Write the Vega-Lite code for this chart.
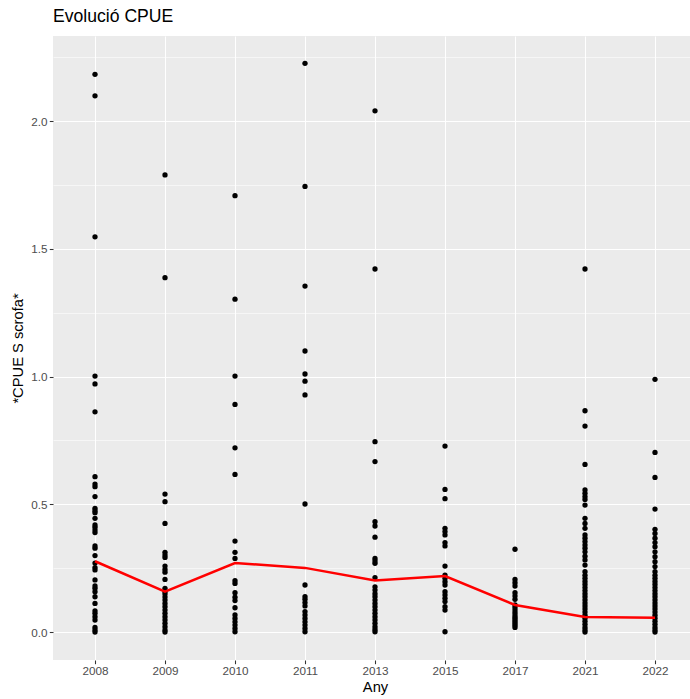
{
  "$schema": "https://vega.github.io/schema/vega-lite/v6.json",
  "width": 644,
  "height": 624,
  "autosize": {"type": "none"},
  "padding": {"left": 53, "top": 36, "right": 0, "bottom": 39},
  "background": "white",
  "title": {"text": "Evolució CPUE", "anchor": "start", "frame": "group", "fontSize": 17.6, "font": "Liberation Sans", "fontWeight": "normal", "color": "black", "offset": 10},
  "config": {"view": {"fill": "#EBEBEB", "stroke": null}, "font": "Liberation Sans"},
  "datasets": {
    "points": [
      {"Any": "2008", "CPUE": 2.183}, {"Any": "2008", "CPUE": 2.099}, {"Any": "2008", "CPUE": 1.547}, {"Any": "2008", "CPUE": 1.002}, {"Any": "2008", "CPUE": 0.971}, {"Any": "2008", "CPUE": 0.862}, {"Any": "2008", "CPUE": 0.608}, {"Any": "2008", "CPUE": 0.579}, {"Any": "2008", "CPUE": 0.569}, {"Any": "2008", "CPUE": 0.53}, {"Any": "2008", "CPUE": 0.484}, {"Any": "2008", "CPUE": 0.475}, {"Any": "2008", "CPUE": 0.467}, {"Any": "2008", "CPUE": 0.445}, {"Any": "2008", "CPUE": 0.419}, {"Any": "2008", "CPUE": 0.41}, {"Any": "2008", "CPUE": 0.399}, {"Any": "2008", "CPUE": 0.389}, {"Any": "2008", "CPUE": 0.337}, {"Any": "2008", "CPUE": 0.328}, {"Any": "2008", "CPUE": 0.299}, {"Any": "2008", "CPUE": 0.27}, {"Any": "2008", "CPUE": 0.252}, {"Any": "2008", "CPUE": 0.243}, {"Any": "2008", "CPUE": 0.204}, {"Any": "2008", "CPUE": 0.18}, {"Any": "2008", "CPUE": 0.171}, {"Any": "2008", "CPUE": 0.158}, {"Any": "2008", "CPUE": 0.138}, {"Any": "2008", "CPUE": 0.112}, {"Any": "2008", "CPUE": 0.083}, {"Any": "2008", "CPUE": 0.073}, {"Any": "2008", "CPUE": 0.06}, {"Any": "2008", "CPUE": 0.047}, {"Any": "2008", "CPUE": 0.018}, {"Any": "2008", "CPUE": 0.008}, {"Any": "2008", "CPUE": 0.0},
      {"Any": "2009", "CPUE": 1.789}, {"Any": "2009", "CPUE": 1.387}, {"Any": "2009", "CPUE": 0.54}, {"Any": "2009", "CPUE": 0.51}, {"Any": "2009", "CPUE": 0.425}, {"Any": "2009", "CPUE": 0.312}, {"Any": "2009", "CPUE": 0.301}, {"Any": "2009", "CPUE": 0.292}, {"Any": "2009", "CPUE": 0.258}, {"Any": "2009", "CPUE": 0.245}, {"Any": "2009", "CPUE": 0.234}, {"Any": "2009", "CPUE": 0.206}, {"Any": "2009", "CPUE": 0.171}, {"Any": "2009", "CPUE": 0.16}, {"Any": "2009", "CPUE": 0.15}, {"Any": "2009", "CPUE": 0.137}, {"Any": "2009", "CPUE": 0.125}, {"Any": "2009", "CPUE": 0.112}, {"Any": "2009", "CPUE": 0.099}, {"Any": "2009", "CPUE": 0.086}, {"Any": "2009", "CPUE": 0.073}, {"Any": "2009", "CPUE": 0.06}, {"Any": "2009", "CPUE": 0.047}, {"Any": "2009", "CPUE": 0.034}, {"Any": "2009", "CPUE": 0.021}, {"Any": "2009", "CPUE": 0.008}, {"Any": "2009", "CPUE": 0.0},
      {"Any": "2010", "CPUE": 1.708}, {"Any": "2010", "CPUE": 1.303}, {"Any": "2010", "CPUE": 1.002}, {"Any": "2010", "CPUE": 0.891}, {"Any": "2010", "CPUE": 0.721}, {"Any": "2010", "CPUE": 0.617}, {"Any": "2010", "CPUE": 0.356}, {"Any": "2010", "CPUE": 0.312}, {"Any": "2010", "CPUE": 0.288}, {"Any": "2010", "CPUE": 0.201}, {"Any": "2010", "CPUE": 0.19}, {"Any": "2010", "CPUE": 0.154}, {"Any": "2010", "CPUE": 0.136}, {"Any": "2010", "CPUE": 0.123}, {"Any": "2010", "CPUE": 0.095}, {"Any": "2010", "CPUE": 0.067}, {"Any": "2010", "CPUE": 0.053}, {"Any": "2010", "CPUE": 0.04}, {"Any": "2010", "CPUE": 0.027}, {"Any": "2010", "CPUE": 0.014}, {"Any": "2010", "CPUE": 0.001},
      {"Any": "2011", "CPUE": 2.226}, {"Any": "2011", "CPUE": 1.744}, {"Any": "2011", "CPUE": 1.354}, {"Any": "2011", "CPUE": 1.1}, {"Any": "2011", "CPUE": 1.01}, {"Any": "2011", "CPUE": 0.982}, {"Any": "2011", "CPUE": 0.928}, {"Any": "2011", "CPUE": 0.501}, {"Any": "2011", "CPUE": 0.184}, {"Any": "2011", "CPUE": 0.138}, {"Any": "2011", "CPUE": 0.128}, {"Any": "2011", "CPUE": 0.115}, {"Any": "2011", "CPUE": 0.102}, {"Any": "2011", "CPUE": 0.08}, {"Any": "2011", "CPUE": 0.067}, {"Any": "2011", "CPUE": 0.053}, {"Any": "2011", "CPUE": 0.04}, {"Any": "2011", "CPUE": 0.027}, {"Any": "2011", "CPUE": 0.014}, {"Any": "2011", "CPUE": 0.001},
      {"Any": "2013", "CPUE": 2.04}, {"Any": "2013", "CPUE": 1.421}, {"Any": "2013", "CPUE": 0.745}, {"Any": "2013", "CPUE": 0.667}, {"Any": "2013", "CPUE": 0.432}, {"Any": "2013", "CPUE": 0.415}, {"Any": "2013", "CPUE": 0.371}, {"Any": "2013", "CPUE": 0.288}, {"Any": "2013", "CPUE": 0.278}, {"Any": "2013", "CPUE": 0.269}, {"Any": "2013", "CPUE": 0.213}, {"Any": "2013", "CPUE": 0.177}, {"Any": "2013", "CPUE": 0.164}, {"Any": "2013", "CPUE": 0.15}, {"Any": "2013", "CPUE": 0.138}, {"Any": "2013", "CPUE": 0.125}, {"Any": "2013", "CPUE": 0.112}, {"Any": "2013", "CPUE": 0.099}, {"Any": "2013", "CPUE": 0.086}, {"Any": "2013", "CPUE": 0.073}, {"Any": "2013", "CPUE": 0.06}, {"Any": "2013", "CPUE": 0.047}, {"Any": "2013", "CPUE": 0.034}, {"Any": "2013", "CPUE": 0.021}, {"Any": "2013", "CPUE": 0.01}, {"Any": "2013", "CPUE": 0.001},
      {"Any": "2015", "CPUE": 0.728}, {"Any": "2015", "CPUE": 0.558}, {"Any": "2015", "CPUE": 0.522}, {"Any": "2015", "CPUE": 0.406}, {"Any": "2015", "CPUE": 0.393}, {"Any": "2015", "CPUE": 0.38}, {"Any": "2015", "CPUE": 0.35}, {"Any": "2015", "CPUE": 0.337}, {"Any": "2015", "CPUE": 0.258}, {"Any": "2015", "CPUE": 0.223}, {"Any": "2015", "CPUE": 0.21}, {"Any": "2015", "CPUE": 0.197}, {"Any": "2015", "CPUE": 0.184}, {"Any": "2015", "CPUE": 0.158}, {"Any": "2015", "CPUE": 0.145}, {"Any": "2015", "CPUE": 0.132}, {"Any": "2015", "CPUE": 0.119}, {"Any": "2015", "CPUE": 0.099}, {"Any": "2015", "CPUE": 0.086}, {"Any": "2015", "CPUE": 0.001},
      {"Any": "2017", "CPUE": 0.324}, {"Any": "2017", "CPUE": 0.206}, {"Any": "2017", "CPUE": 0.193}, {"Any": "2017", "CPUE": 0.18}, {"Any": "2017", "CPUE": 0.154}, {"Any": "2017", "CPUE": 0.141}, {"Any": "2017", "CPUE": 0.128}, {"Any": "2017", "CPUE": 0.106}, {"Any": "2017", "CPUE": 0.096}, {"Any": "2017", "CPUE": 0.086}, {"Any": "2017", "CPUE": 0.076}, {"Any": "2017", "CPUE": 0.067}, {"Any": "2017", "CPUE": 0.058}, {"Any": "2017", "CPUE": 0.05}, {"Any": "2017", "CPUE": 0.042}, {"Any": "2017", "CPUE": 0.034}, {"Any": "2017", "CPUE": 0.026}, {"Any": "2017", "CPUE": 0.018},
      {"Any": "2021", "CPUE": 1.421}, {"Any": "2021", "CPUE": 0.866}, {"Any": "2021", "CPUE": 0.806}, {"Any": "2021", "CPUE": 0.656}, {"Any": "2021", "CPUE": 0.556}, {"Any": "2021", "CPUE": 0.543}, {"Any": "2021", "CPUE": 0.53}, {"Any": "2021", "CPUE": 0.519}, {"Any": "2021", "CPUE": 0.497}, {"Any": "2021", "CPUE": 0.445}, {"Any": "2021", "CPUE": 0.425}, {"Any": "2021", "CPUE": 0.406}, {"Any": "2021", "CPUE": 0.38}, {"Any": "2021", "CPUE": 0.367}, {"Any": "2021", "CPUE": 0.354}, {"Any": "2021", "CPUE": 0.341}, {"Any": "2021", "CPUE": 0.328}, {"Any": "2021", "CPUE": 0.314}, {"Any": "2021", "CPUE": 0.297}, {"Any": "2021", "CPUE": 0.282}, {"Any": "2021", "CPUE": 0.262}, {"Any": "2021", "CPUE": 0.236}, {"Any": "2021", "CPUE": 0.222}, {"Any": "2021", "CPUE": 0.21}, {"Any": "2021", "CPUE": 0.198}, {"Any": "2021", "CPUE": 0.186}, {"Any": "2021", "CPUE": 0.174}, {"Any": "2021", "CPUE": 0.162}, {"Any": "2021", "CPUE": 0.15}, {"Any": "2021", "CPUE": 0.138}, {"Any": "2021", "CPUE": 0.126}, {"Any": "2021", "CPUE": 0.114}, {"Any": "2021", "CPUE": 0.102}, {"Any": "2021", "CPUE": 0.09}, {"Any": "2021", "CPUE": 0.078}, {"Any": "2021", "CPUE": 0.066}, {"Any": "2021", "CPUE": 0.054}, {"Any": "2021", "CPUE": 0.042}, {"Any": "2021", "CPUE": 0.03}, {"Any": "2021", "CPUE": 0.018}, {"Any": "2021", "CPUE": 0.008}, {"Any": "2021", "CPUE": 0.0},
      {"Any": "2022", "CPUE": 0.989}, {"Any": "2022", "CPUE": 0.703}, {"Any": "2022", "CPUE": 0.605}, {"Any": "2022", "CPUE": 0.481}, {"Any": "2022", "CPUE": 0.402}, {"Any": "2022", "CPUE": 0.386}, {"Any": "2022", "CPUE": 0.367}, {"Any": "2022", "CPUE": 0.35}, {"Any": "2022", "CPUE": 0.334}, {"Any": "2022", "CPUE": 0.314}, {"Any": "2022", "CPUE": 0.295}, {"Any": "2022", "CPUE": 0.275}, {"Any": "2022", "CPUE": 0.256}, {"Any": "2022", "CPUE": 0.236}, {"Any": "2022", "CPUE": 0.222}, {"Any": "2022", "CPUE": 0.21}, {"Any": "2022", "CPUE": 0.198}, {"Any": "2022", "CPUE": 0.186}, {"Any": "2022", "CPUE": 0.174}, {"Any": "2022", "CPUE": 0.162}, {"Any": "2022", "CPUE": 0.15}, {"Any": "2022", "CPUE": 0.138}, {"Any": "2022", "CPUE": 0.126}, {"Any": "2022", "CPUE": 0.114}, {"Any": "2022", "CPUE": 0.102}, {"Any": "2022", "CPUE": 0.09}, {"Any": "2022", "CPUE": 0.078}, {"Any": "2022", "CPUE": 0.066}, {"Any": "2022", "CPUE": 0.054}, {"Any": "2022", "CPUE": 0.042}, {"Any": "2022", "CPUE": 0.03}, {"Any": "2022", "CPUE": 0.018}, {"Any": "2022", "CPUE": 0.008}, {"Any": "2022", "CPUE": 0.0}
    ],
    "means": [
      {"Any": "2008", "CPUE": 0.277}, {"Any": "2009", "CPUE": 0.158}, {"Any": "2010", "CPUE": 0.27}, {"Any": "2011", "CPUE": 0.251}, {"Any": "2013", "CPUE": 0.202}, {"Any": "2015", "CPUE": 0.219}, {"Any": "2017", "CPUE": 0.106}, {"Any": "2021", "CPUE": 0.059}, {"Any": "2022", "CPUE": 0.056}
    ]
  },
  "resolve": {"axis": {"y": "independent"}},
  "layer": [
    {
      "data": {"name": "points"},
      "mark": {"type": "circle", "size": 28, "opacity": 1, "color": "black"},
      "encoding": {
        "x": {"field": "Any", "type": "nominal", "scale": {"type": "point", "padding": 0.6},
          "axis": {"title": "Any", "labelAngle": 0, "labelFontSize": 11.7, "labelColor": "#4D4D4D", "labelPadding": 2, "tickColor": "#333333", "tickSize": 3.7, "tickWidth": 1.07, "domain": false, "grid": true, "gridColor": "white", "gridWidth": 1.07, "titleFontSize": 14.7, "titleFontWeight": "normal", "titleColor": "black", "titlePadding": 2.5}},
        "y": {"field": "CPUE", "type": "quantitative", "scale": {"domain": [-0.1096, 2.333], "nice": false, "zero": false},
          "axis": {"title": "*CPUE S scrofa*", "values": [0, 0.5, 1, 1.5, 2], "format": ".1f", "labelFontSize": 11.7, "labelColor": "#4D4D4D", "labelPadding": 2.2, "tickColor": "#333333", "tickSize": 3.7, "tickWidth": 1.07, "domain": false, "grid": true, "gridColor": "white", "gridWidth": 1.07, "titleFontSize": 14.7, "titleFontWeight": "normal", "titleColor": "black", "titlePadding": 5}}
      }
    },
    {
      "data": {"name": "means"},
      "mark": {"type": "line", "color": "#FF0000", "strokeWidth": 2.5},
      "encoding": {
        "x": {"field": "Any", "type": "nominal"},
        "y": {"field": "CPUE", "type": "quantitative",
          "axis": {"orient": "right", "title": null, "values": [0.25, 0.75, 1.25, 1.75, 2.25], "labels": false, "ticks": false, "domain": false, "grid": true, "gridColor": "white", "gridWidth": 0.55}}
      }
    }
  ]
}
